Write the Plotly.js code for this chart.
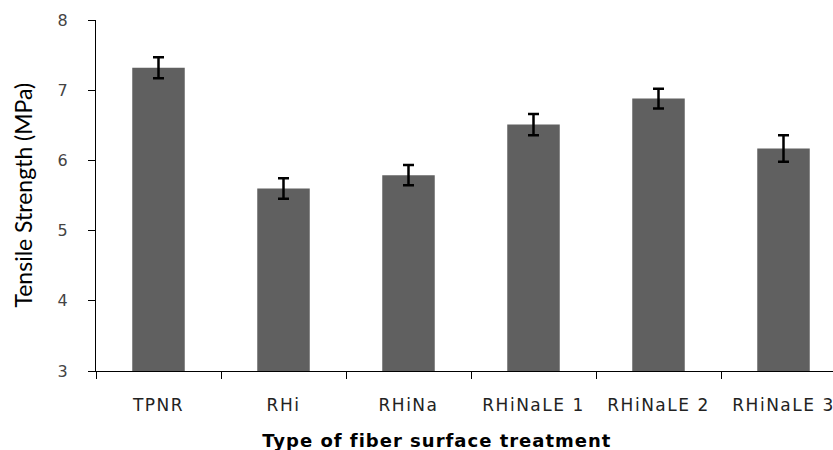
<!DOCTYPE html>
<html><head><meta charset="utf-8">
<script src="https://cdn.plot.ly/plotly-3.0.1.min.js"></script>
<style>html,body{margin:0;padding:0;background:#fff}#chart{width:833px;height:450px}
.xtick text{letter-spacing:1.5px}
.annotation[data-index="1"] text{letter-spacing:1px}</style>
</head><body><div id="chart"></div>
<script>
var categories = ["TPNR", "RHi", "RHiNa", "RHiNaLE 1", "RHiNaLE 2", "RHiNaLE 3"];
var strength = [7.32, 5.60, 5.79, 6.51, 6.88, 6.17];
var errors = [0.15, 0.145, 0.145, 0.15, 0.14, 0.19];
var yTicks = [3, 4, 5, 6, 7, 8];

var trace = {
  type: "bar",
  x: categories,
  y: strength,
  width: 0.42,
  marker: {color: "#606060"},
  error_y: {type: "data", array: errors, visible: true, color: "#000", thickness: 2.5, width: 5.5},
  hoverinfo: "none"
};
var axisHolder = {
  type: "scatter", mode: "markers",
  x: categories, y: strength, yaxis: "y2",
  marker: {opacity: 0, size: 1},
  hoverinfo: "none", showlegend: false
};

var layout = {
  width: 833, height: 450,
  margin: {l: 96, r: 0, t: 19.5, b: 79},
  paper_bgcolor: "#fff", plot_bgcolor: "#fff",
  showlegend: false,
  xaxis: {
    type: "category",
    range: [-0.5, 5.396],
    showline: true, linecolor: "#000", linewidth: 1,
    ticks: "outside", tickson: "boundaries", ticklen: 7, tickcolor: "#000",
    tickfont: {family: "DejaVu Sans", size: 17, color: "#222"},
    ticklabelstandoff: 19,
    showgrid: false, zeroline: false, fixedrange: true
  },
  yaxis: {
    range: [3, 8],
    tickvals: yTicks,
    showline: false,
    ticks: "outside", ticklen: 24, tickcolor: "rgba(0,0,0,0)",
    tickfont: {family: "DejaVu Sans", size: 16, color: "#444"},
    showgrid: false, zeroline: false, fixedrange: true
  },
  yaxis2: {
    overlaying: "y", side: "left",
    range: [3, 8],
    tickvals: yTicks,
    showticklabels: false,
    showline: true, linecolor: "#000", linewidth: 1,
    ticks: "outside", ticklen: 7, tickcolor: "#000",
    showgrid: false, zeroline: false, fixedrange: true
  },
  annotations: [
    {text: "Tensile Strength (MPa)", textangle: -90, xref: "paper", yref: "paper",
     x: -0.1003, y: 0.5, xanchor: "center", yanchor: "middle", showarrow: false,
     font: {family: "Lato", size: 23, color: "#000"}},
    {text: "<b>Type of fiber surface treatment</b>", xref: "paper", yref: "paper",
     x: 0.463, y: -0.198, xanchor: "center", yanchor: "middle", showarrow: false,
     font: {family: "DejaVu Sans", size: 18, color: "#000"}}
  ]
};

Plotly.newPlot("chart", [trace, axisHolder], layout, {staticPlot: true, displayModeBar: false});
</script></body></html>
